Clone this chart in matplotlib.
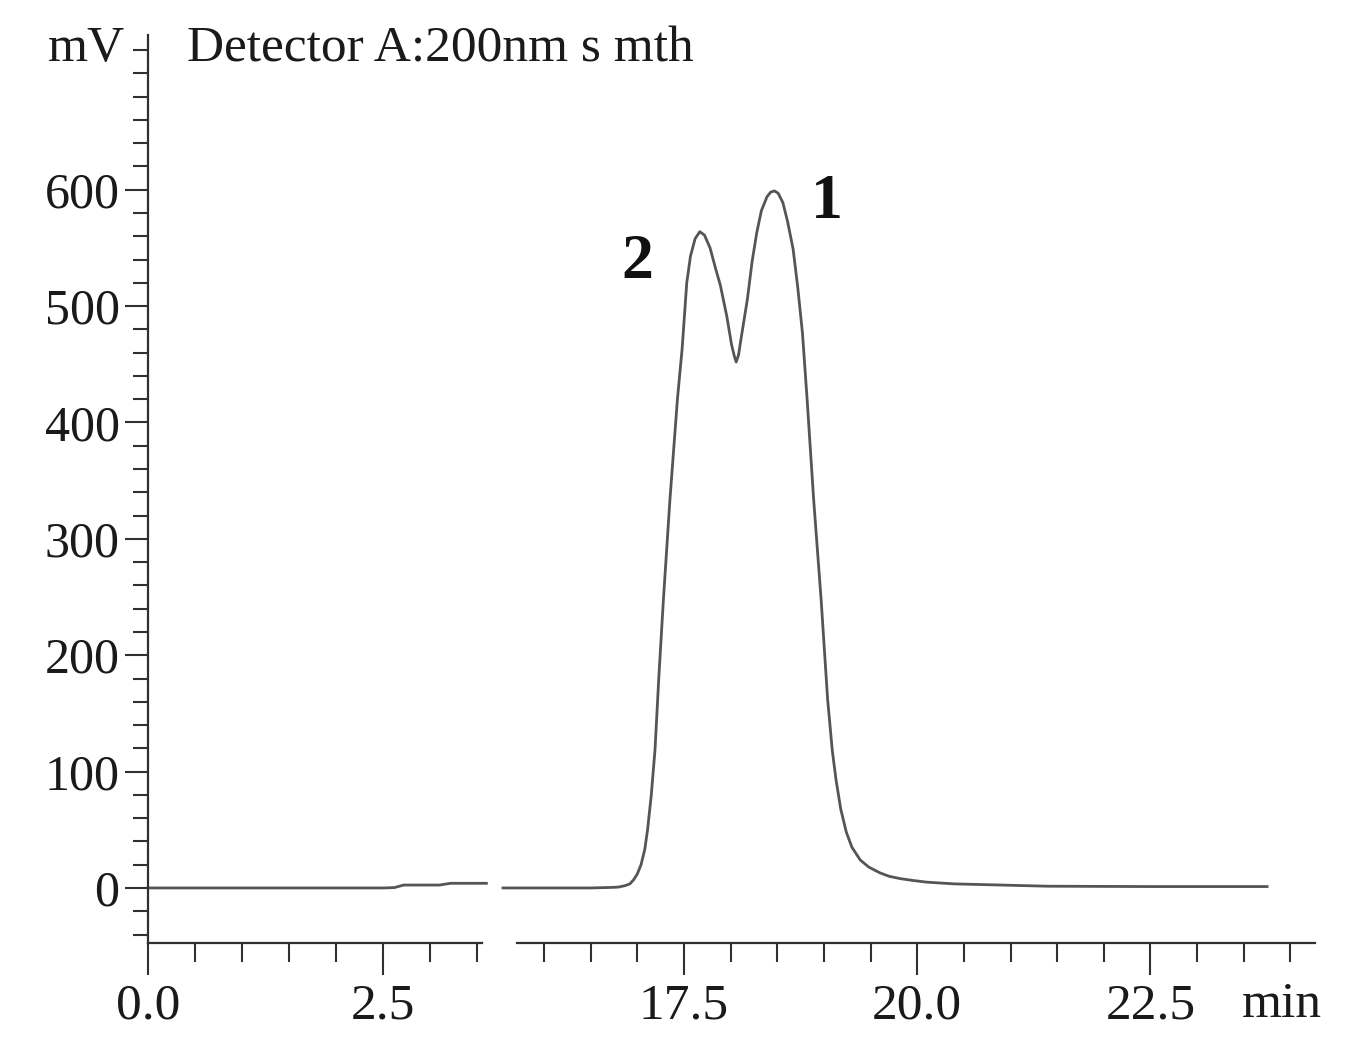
import matplotlib.pyplot as plt
from matplotlib.ticker import MultipleLocator

plt.rcParams['font.family'] = ['Liberation Serif', 'DejaVu Serif']

# chromatogram, first part (0 - 3.6 min)
t_left = [0.0, 0.5, 1.0, 1.5, 2.0, 2.5, 2.62, 2.72, 3.1, 3.22, 3.6]
mv_left = [0, 0, 0, 0, 0, 0, 0.3, 2.5, 2.5, 4, 4]

# chromatogram, second part (15.6 - 23.75 min)
t_right = [15.56, 16.0, 16.5, 16.74, 16.80, 16.87, 16.92, 16.96, 17.00, 17.04,
           17.08, 17.11, 17.15, 17.19, 17.23, 17.28, 17.35, 17.43, 17.48, 17.53,
           17.57, 17.62, 17.67, 17.72, 17.78, 17.84, 17.89, 17.96, 18.01, 18.04,
           18.06, 18.085, 18.11, 18.18, 18.23, 18.28, 18.33, 18.39, 18.43, 18.47,
           18.51, 18.56, 18.61, 18.67, 18.72, 18.77, 18.82, 18.89, 18.97, 19.04,
           19.09, 19.13, 19.18, 19.24, 19.30, 19.39, 19.48, 19.60, 19.70, 19.82,
           19.95, 20.1, 20.4, 20.9, 21.4, 22.5, 23.75]
mv_right = [0, 0, 0, 0.5, 0.8, 2, 3.5, 7, 12, 20,
            33, 50, 80, 119, 180, 248, 334, 420, 463, 520,
            543, 558, 564, 561, 550, 532, 518, 491, 467, 457,
            452, 458, 471, 506, 538, 563, 582, 594, 598, 599,
            597, 589, 573, 549, 516, 477, 420, 334, 248, 162,
            118, 93, 68, 48, 35, 24, 18, 13, 10, 8,
            6.5, 5, 3.5, 2.5, 1.5, 1.2, 1.2]

peak_labels = ['2', '1']
peak_pos = [(17.0, 537), (19.03, 589)]

x_major_left = [0.0, 2.5]
x_major_right = [17.5, 20.0, 22.5]
y_major = [0, 100, 200, 300, 400, 500, 600]

W, H = 1353, 1055
fig = plt.figure(figsize=(W / 100, H / 100), dpi=100)

bottom = 1 - 943 / H
height = (943 - 35) / H
ax1 = fig.add_axes([148 / W, bottom, (482 - 148) / W, height])
ax2 = fig.add_axes([517 / W, bottom, (1315 - 517) / W, height])

ink = '#303030'
line_c = '#555555'

for ax in (ax1, ax2):
    ax.set_ylim(-47.3, 733)
    ax.spines['top'].set_visible(False)
    ax.spines['right'].set_visible(False)
    for s in ax.spines.values():
        s.set_color(ink)
        s.set_linewidth(1.6)
    ax.xaxis.set_minor_locator(MultipleLocator(0.5))
    ax.tick_params(axis='x', which='major', direction='out', length=23, width=1.5,
                   color=ink, labelsize=37, pad=6, labelcolor='#1a1a1a')
    ax.tick_params(axis='x', which='minor', direction='out', length=14, width=1.5,
                   color=ink)
    ax.patch.set_alpha(0)

ax1.set_xlim(0, (482 - 148) / 94)
ax2.set_xlim(16 - (544 - 517) / 93.3, 16 + (1315 - 544) / 93.3)
ax1.set_xticks(x_major_left)
ax1.set_xticklabels([f'{v:.1f}' for v in x_major_left])
ax2.set_xticks(x_major_right)
ax2.set_xticklabels([f'{v:.1f}' for v in x_major_right])

ax1.set_yticks(y_major)
ax1.yaxis.set_minor_locator(MultipleLocator(20))
ax1.tick_params(axis='y', which='major', direction='out', length=16.5, width=1.5,
                color=ink, labelsize=36, pad=4, labelcolor='#1a1a1a')
ax1.tick_params(axis='y', which='minor', direction='out', length=10.5, width=1.5,
                color=ink)

ax2.spines['left'].set_visible(False)
ax2.tick_params(axis='y', which='both', left=False, labelleft=False)

ax1.plot(t_left, mv_left, color=line_c, lw=2.0, clip_on=False, solid_joinstyle='round')
ax2.plot(t_right, mv_right, color=line_c, lw=2.0, clip_on=False, solid_joinstyle='round')

for lab, (px, py) in zip(peak_labels, peak_pos):
    ax2.text(px, py, lab, fontsize=46, fontweight='bold', ha='center', va='center',
             color='#111111')

fig.text(125 / W, 1 - 49 / H, 'mV', fontsize=37, ha='right', va='center', color='#1a1a1a')
fig.text(187 / W, 1 - 49 / H, 'Detector A:200nm s mth', fontsize=37, ha='left',
         va='center', color='#1a1a1a')
fig.text(1282 / W, 1 - 1005 / H, 'min', fontsize=37, ha='center', va='center',
         color='#1a1a1a')

fig.savefig('out.png', dpi=100, facecolor='white')
